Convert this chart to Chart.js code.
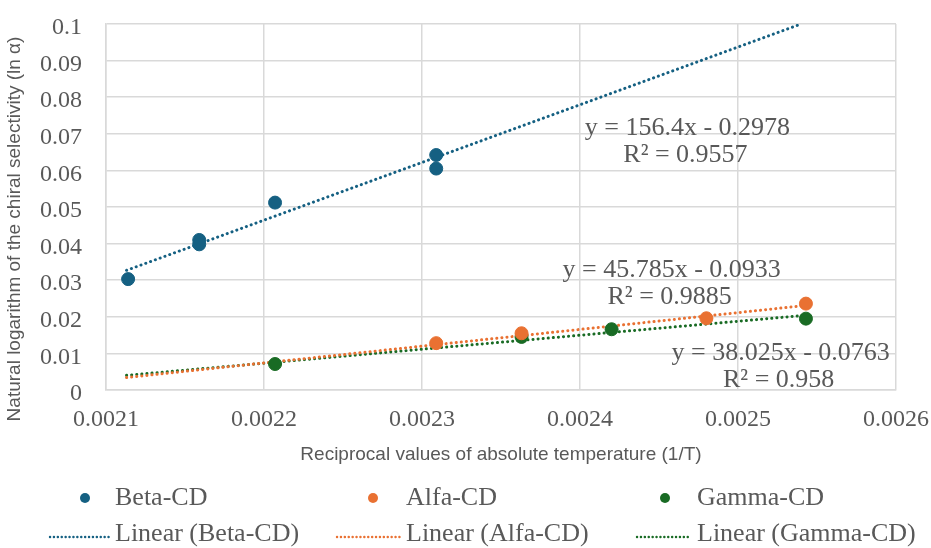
<!DOCTYPE html>
<html>
<head>
<meta charset="utf-8">
<script src="https://cdn.jsdelivr.net/npm/chart.js@4.4.1/dist/chart.umd.min.js"></script>
<style>
  html, body { margin: 0; background: #fff; }
  #wrap { width: 931px; height: 548px; position: relative; }
</style>
</head>
<body>
<div id="wrap"><canvas id="chart"></canvas></div>
<script>
// values
const seriesNames = ['Beta-CD', 'Alfa-CD', 'Gamma-CD']

const betaX = [0.002114, 0.002159, 0.002159, 0.002207, 0.002309, 0.002309]
const betaY = [0.0303, 0.0410, 0.0398, 0.0512, 0.0642, 0.0605]
const alfaX = [0.002309, 0.002363, 0.002480, 0.002543]
const alfaY = [0.0128, 0.0155, 0.0196, 0.0236]
const gammaX = [0.002207, 0.002363, 0.002420, 0.002543]
const gammaY = [0.0071, 0.0145, 0.0166, 0.0195]

// trendline ends as drawn in the picture
const betaTrendX = [0.002113, 0.00254]
const betaTrendY = [0.0327, 0.1]
const alfaTrendX = [0.002113, 0.002545]
const alfaTrendY = [0.0034, 0.0232]
const gammaTrendX = [0.002113, 0.002545]
const gammaTrendY = [0.0040, 0.0205]

const trendEquations = ['y = 156.4x - 0.2978', 'y = 45.785x - 0.0933', 'y = 38.025x - 0.0763']
const trendR2 = ['R² = 0.9557', 'R² = 0.9885', 'R² = 0.958']

const xTickLabels = ['0.0021', '0.0022', '0.0023', '0.0024', '0.0025', '0.0026']
const yTickLabels = ['0', '0.01', '0.02', '0.03', '0.04', '0.05', '0.06', '0.07', '0.08', '0.09', '0.1']

const colors = ['#156082', '#E97132', '#196B24']
const serif = "'Liberation Serif', 'Times New Roman', serif"
const sans = "'Liberation Sans', Arial, sans-serif"
const textGray = '#595959'
const gridGray = '#d9d9d9'

function pts(xs, ys) {
  return xs.map((x, i) => ({ x: x, y: ys[i] }))
}

function scatterSet(name, xs, ys, color) {
  return {
    type: 'scatter',
    label: name,
    data: pts(xs, ys),
    backgroundColor: color,
    borderColor: color,
    pointRadius: 6.5,
    pointHoverRadius: 6.5,
    order: 1,
  }
}

function trendSet(name, xs, ys, color) {
  return {
    type: 'line',
    label: 'Linear (' + name + ')',
    data: pts(xs, ys),
    borderColor: color,
    borderWidth: 3,
    borderDash: [0.1, 5],
    borderCapStyle: 'round',
    pointRadius: 0,
    fill: false,
    order: 2,
  }
}

const yTitlePlugin = {
  id: 'yTitle',
  afterDraw(chart) {
    const ctx = chart.ctx
    ctx.save()
    ctx.translate(15, 229)
    ctx.rotate(-Math.PI / 2)
    ctx.font = '19px ' + sans
    ctx.fillStyle = textGray
    ctx.textAlign = 'center'
    ctx.textBaseline = 'middle'
    ctx.fillText('Natural logarithm of the chiral selectivity (ln α)', 0, 0)
    ctx.restore()
  },
}

// equation + R² labels, anchored in data units
const eqPlugin = {
  id: 'eqLabels',
  afterDatasetsDraw(chart) {
    const ctx = chart.ctx
    const xs = chart.scales.x
    const ys = chart.scales.y
    const anchors = [
      [0.002468, 0.0697],
      [0.002458, 0.0309],
      [0.002527, 0.0082],
    ]
    ctx.save()
    ctx.font = '26px ' + serif
    ctx.fillStyle = textGray
    ctx.textAlign = 'center'
    ctx.textBaseline = 'alphabetic'
    anchors.forEach((a, i) => {
      const px = xs.getPixelForValue(a[0])
      const py = ys.getPixelForValue(a[1])
      ctx.fillText(trendEquations[i], px, py)
      ctx.fillText(trendR2[i], px - 2, py + 27)
    })
    ctx.restore()
  },
}

const legendPlugin = {
  id: 'gridLegend',
  afterDraw(chart) {
    const ctx = chart.ctx
    const textX = [115, 406, 697]
    const markerX = [85, 373, 665]
    const lineFrom = [50, 337, 637]
    const rowBase = [505, 541]
    ctx.save()
    ctx.font = '26px ' + serif
    ctx.fillStyle = textGray
    ctx.textAlign = 'left'
    ctx.textBaseline = 'alphabetic'
    chart.data.datasets.forEach((ds, i) => {
      const col = i % 3
      const row = Math.floor(i / 3)
      if (row === 0) {
        ctx.beginPath()
        ctx.arc(markerX[col], rowBase[0] - 7, 5, 0, Math.PI * 2)
        ctx.fillStyle = ds.backgroundColor
        ctx.fill()
      } else {
        ctx.beginPath()
        ctx.setLineDash([0.1, 3.8])
        ctx.lineCap = 'round'
        ctx.lineWidth = 2.4
        ctx.strokeStyle = ds.borderColor
        ctx.moveTo(lineFrom[col], rowBase[1] - 4)
        ctx.lineTo(textX[col] - 6, rowBase[1] - 4)
        ctx.stroke()
        ctx.setLineDash([])
      }
      ctx.fillStyle = textGray
      ctx.fillText(ds.label, textX[col], rowBase[row])
    })
    ctx.restore()
  },
}

new Chart(document.getElementById('chart'), {
  data: {
    datasets: [
      scatterSet(seriesNames[0], betaX, betaY, colors[0]),
      scatterSet(seriesNames[1], alfaX, alfaY, colors[1]),
      scatterSet(seriesNames[2], gammaX, gammaY, colors[2]),
      trendSet(seriesNames[0], betaTrendX, betaTrendY, colors[0]),
      trendSet(seriesNames[1], alfaTrendX, alfaTrendY, colors[1]),
      trendSet(seriesNames[2], gammaTrendX, gammaTrendY, colors[2]),
    ],
  },
  options: {
    responsive: true,
    maintainAspectRatio: false,
    animation: false,
    layout: { padding: { left: 0, top: 24, right: 35, bottom: 82 } },
    plugins: {
      legend: { display: false },
      tooltip: { enabled: false },
    },
    scales: {
      x: {
        type: 'linear',
        min: 0.0021,
        max: 0.0026,
        afterFit: (scale) => {
          scale.height = 76
          scale.paddingLeft = 0
          scale.paddingRight = 0
        },
        grid: { color: gridGray, lineWidth: 1.5, drawTicks: false },
        border: { color: gridGray, width: 1.5 },
        ticks: {
          stepSize: 0.0001,
          padding: 15,
          color: textGray,
          font: { family: serif, size: 24 },
          maxRotation: 0,
          callback: (v) => xTickLabels.find((t) => Math.abs(parseFloat(t) - v) < 1e-9) ?? '',
        },
        title: {
          display: true,
          text: 'Reciprocal values of absolute temperature (1/T)',
          color: textGray,
          font: { family: sans, size: 19 },
          padding: 0,
        },
      },
      y: {
        type: 'linear',
        min: 0,
        max: 0.1,
        afterFit: (scale) => {
          scale.width = 106
          scale.paddingTop = 0
          scale.paddingBottom = 0
        },
        grid: { color: gridGray, lineWidth: 1.5, drawTicks: false },
        border: { color: gridGray, width: 1.5 },
        ticks: {
          stepSize: 0.01,
          padding: 24,
          labelOffset: 4,
          color: textGray,
          font: { family: serif, size: 24 },
          callback: (v) => yTickLabels.find((t) => Math.abs(parseFloat(t) - v) < 1e-9) ?? '',
        },
      },
    },
  },
  plugins: [yTitlePlugin, eqPlugin, legendPlugin],
})
</script>
</body>
</html>
